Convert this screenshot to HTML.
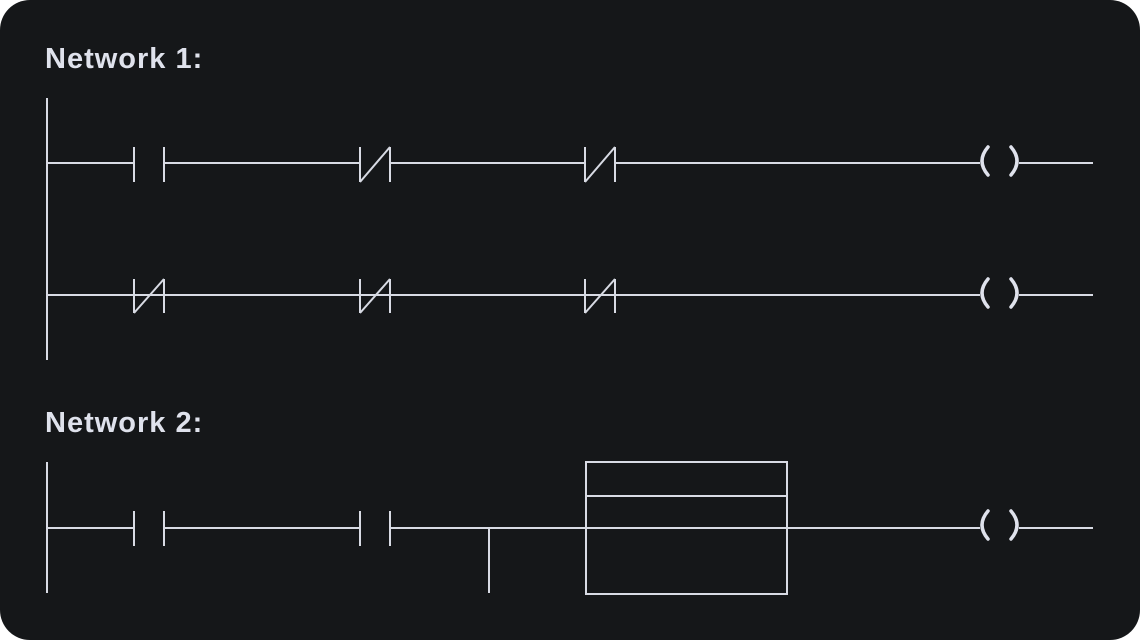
<!DOCTYPE html>
<html><head><meta charset="utf-8"><style>
html,body{margin:0;padding:0;background:#fff;}
.wrap{width:1140px;height:640px;background:#151719;border-radius:30px;position:relative;overflow:hidden;}
svg{position:absolute;left:0;top:0;}
</style></head><body><div class="wrap">
<svg width="1140" height="640" viewBox="0 0 1140 640">
<g fill="#dfe2ec" font-family="Liberation Sans, sans-serif" font-size="29" font-weight="700" letter-spacing="1">
<text x="45" y="68">Network 1:</text>
<text x="45" y="432">Network 2:</text>
</g>
<g stroke="#d8dbe4" stroke-width="2" fill="none">
<line x1="47" y1="98" x2="47" y2="360"/>
<line x1="47" y1="163" x2="134" y2="163"/>
<line x1="134" y1="147" x2="134" y2="182"/>
<line x1="164" y1="147" x2="164" y2="182"/>
<line x1="164" y1="163" x2="360" y2="163"/>
<line x1="360" y1="147" x2="360" y2="182"/>
<line x1="390" y1="147" x2="390" y2="182"/>
<line x1="360" y1="182" x2="390" y2="147"/>
<line x1="390" y1="163" x2="585" y2="163"/>
<line x1="585" y1="147" x2="585" y2="182"/>
<line x1="615" y1="147" x2="615" y2="182"/>
<line x1="585" y1="182" x2="615" y2="147"/>
<line x1="615" y1="163" x2="980" y2="163"/>
<line x1="1019" y1="163" x2="1093" y2="163"/>
<line x1="47" y1="295" x2="980" y2="295"/>
<line x1="1019" y1="295" x2="1093" y2="295"/>
<line x1="134" y1="279" x2="134" y2="313"/>
<line x1="164" y1="279" x2="164" y2="313"/>
<line x1="134" y1="313" x2="164" y2="279"/>
<line x1="360" y1="279" x2="360" y2="313"/>
<line x1="390" y1="279" x2="390" y2="313"/>
<line x1="360" y1="313" x2="390" y2="279"/>
<line x1="585" y1="279" x2="585" y2="313"/>
<line x1="615" y1="279" x2="615" y2="313"/>
<line x1="585" y1="313" x2="615" y2="279"/>
<line x1="47" y1="462" x2="47" y2="593"/>
<line x1="47" y1="528" x2="134" y2="528"/>
<line x1="134" y1="511" x2="134" y2="546"/>
<line x1="164" y1="511" x2="164" y2="546"/>
<line x1="164" y1="528" x2="360" y2="528"/>
<line x1="360" y1="511" x2="360" y2="546"/>
<line x1="390" y1="511" x2="390" y2="546"/>
<line x1="390" y1="528" x2="980" y2="528"/>
<line x1="489" y1="528" x2="489" y2="593"/>
<rect x="586" y="462" width="201" height="132"/>
<line x1="586" y1="496" x2="787" y2="496"/>
<line x1="1019" y1="528" x2="1093" y2="528"/>
</g>
<g stroke="#dfe2ec" stroke-width="3.5" fill="none" stroke-linecap="round">
<path d="M988 147 Q976 161 988 175"/>
<path d="M1011 147 Q1023 161 1011 175"/>
<path d="M988 279 Q976 293 988 307"/>
<path d="M1011 279 Q1023 293 1011 307"/>
<path d="M988 511 Q976 525 988 539"/>
<path d="M1011 511 Q1023 525 1011 539"/>
</g>
</svg>
</div></body></html>
